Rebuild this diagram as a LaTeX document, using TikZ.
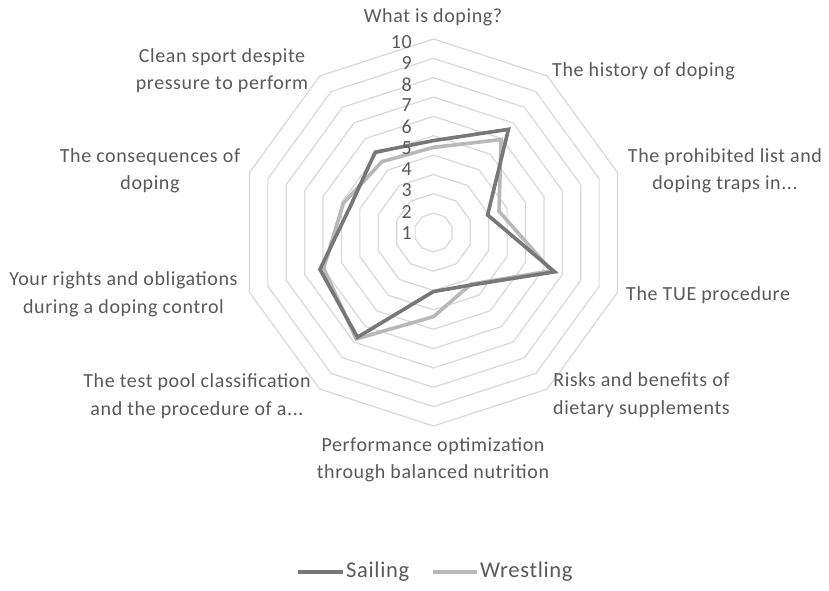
\documentclass[tikz,border=0pt]{standalone}
\usepackage{fontspec}
\setmainfont{Carlito}[LetterSpace=3]
\definecolor{txt}{HTML}{595959}
\definecolor{gridc}{HTML}{D9D9D9}
\definecolor{sailc}{HTML}{777777}
\definecolor{wrestc}{HTML}{B8B8B8}
\tikzset{
  gridring/.style={draw=gridc, line width=1.2pt, line join=miter},
  sailline/.style={draw=sailc, line width=3.6pt, line join=miter, line cap=round},
  wrestline/.style={draw=wrestc, line width=3.6pt, line join=miter, line cap=round},
  lbl/.style={text=txt, inner sep=0pt, align=center, font=\fontsize{20}{27.5}\selectfont},
  numlbl/.style={text=txt, inner sep=0pt, anchor=east, font=\fontsize{20}{24}\selectfont},
  leglbl/.style={text=txt, inner sep=0pt, anchor=west, font=\fontsize{22.5}{26}\selectfont}
}
\begin{document}
\begin{tikzpicture}[x=1pt,y=-1pt]
\fill[white] (0,0) rectangle (829,590);
\useasboundingbox (0,0) rectangle (829,590);
\begin{scope}[shift={(433.5,232.5)}]
  % rings
  \foreach \k in {1,...,10}{
    \draw[gridring] (-90:{\k*19.35}) \foreach \a in {1,...,9}{ -- ({-90+36*\a}:{\k*19.35}) } -- cycle;
  }
  % series
  \def\u{19.35}
  \foreach \v [count=\i from 0] in {4.75,6.59,2.94,6.58,3.35,3.05,6.69,6.17,4.5,5.13}{
    \coordinate (s\i) at ({-90+36*\i}:{\v*\u});
  }
  \foreach \v [count=\i from 0] in {4.4,5.94,3.56,6.4,3.3,4.35,6.8,5.97,4.9,4.53}{
    \coordinate (w\i) at ({-90+36*\i}:{\v*\u});
  }
  \draw[wrestline] (w0) -- (w1) -- (w2) -- (w3) -- (w4) -- (w5) -- (w6) -- (w7) -- (w8) -- (w9) -- cycle;
  \draw[sailline] (s0) -- (s1) -- (s2) -- (s3) -- (s4) -- (s5) -- (s6) -- (s7) -- (s8) -- (s9) -- cycle;
\end{scope}
% axis numbers
\foreach \k in {1,...,10}{
  \node[numlbl] (n\k) at (412,{233-(\k-1)*21.25}) {\k};
}
% category labels
\node[lbl] (c0) at (433,17) {What is doping?};
\node[lbl, anchor=west] (c1) at (552,71) {The history of doping};
\node[lbl] (c2) at (725,171) {The prohibited list and\\doping traps in...};
\node[lbl, anchor=west] (c3) at (626,295) {The TUE procedure};
\node[lbl, anchor=west] (c4) at (553,395) {Risks and benefits of\\dietary supplements};
\node[lbl] (c5) at (433,460) {Performance optimization\\through balanced nutrition};
\node[lbl] (c6) at (197,396) {The test pool classification\\and the procedure of a...};
\node[lbl] (c7) at (123.5,294.5) {Your rights and obligations\\during a doping control};
\node[lbl] (c8) at (150,171) {The consequences of\\doping};
\node[lbl] (c9) at (222,70.5) {Clean sport despite\\pressure to perform};
% legend
\coordinate (la) at (298,572);
\coordinate (lb) at (343,572);
\coordinate (lc) at (433,572);
\coordinate (ld) at (477,572);
\draw[sailline, line cap=butt] (la) -- (lb);
\draw[wrestline, line cap=butt] (lc) -- (ld);
\node[leglbl] (ls) at (346,572) {Sailing};
\node[leglbl] (lw) at (480,572) {Wrestling};
\end{tikzpicture}
\end{document}
